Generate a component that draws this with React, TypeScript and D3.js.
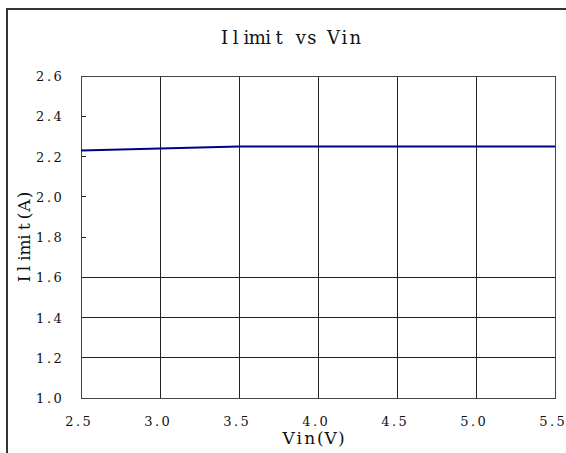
import React from "react";
import * as d3 from "d3";

// Ilimit vs Vin
const vin = [2.5, 3.0, 3.5, 4.0, 4.5, 5.0, 5.5];
const ilimit = [2.23, 2.24, 2.25, 2.25, 2.25, 2.25, 2.25];
const xTicks = [2.5, 3.0, 3.5, 4.0, 4.5, 5.0, 5.5];
const yTicks = [1.0, 1.2, 1.4, 1.6, 1.8, 2.0, 2.2, 2.4, 2.6];
const yGrid = [1.2, 1.4, 1.6];

const W = 566;
const H = 453;
const left = 81, right = 555, top = 76, bottom = 398;
const font = "DejaVu Serif";

// serif glyphs on a fixed cell, the way a half-width CJK font sets latin text
function MonoText(props: {
  text: string;
  cx: number;
  y: number;
  cell: number;
  size: number;
  anchor?: "middle" | "end";
  rotate?: number;
}) {
  const { text, cx, y, cell, size, anchor = "middle", rotate = 0 } = props;
  const n = text.length;
  const x0 = anchor === "middle" ? -(n * cell) / 2 : -n * cell;
  return (
    <g transform={`translate(${cx},${y}) rotate(${rotate})`}>
      {text.split("").map((c, i) => (
        <text
          key={i}
          x={x0 + cell * (i + 0.5)}
          y={0}
          textAnchor="middle"
          style={{ fontFamily: font, fontSize: size }}
          fill="#111"
        >
          {c}
        </text>
      ))}
    </g>
  );
}

const App: React.FC = () => {
  const x = d3.scaleLinear().domain([2.5, 5.5]).range([left, right]);
  const y = d3.scaleLinear().domain([1.0, 2.6]).range([bottom, top]);

  const line = d3
    .line<number>()
    .x((_, i) => x(vin[i]))
    .y((d) => y(d));

  return (
    <svg
      width={W}
      height={H}
      style={{ position: "absolute", left: 0, top: 0, display: "block" }}
    >
      <rect x={0} y={0} width={W} height={H} fill="#fff" />
      {/* outer frame, runs off the right and bottom edges */}
      <rect x={7} y={9} width={W + 20} height={H + 20} fill="none" stroke="#333" strokeWidth={2} />

      <MonoText text="Ilimit vs Vin" cx={290} y={44} cell={10.9} size={18} />

      {/* grid */}
      <g stroke="#222" strokeWidth={1} shapeRendering="crispEdges">
        {xTicks.slice(1, -1).map((t) => (
          <line key={"vx" + t} x1={x(t)} x2={x(t)} y1={top} y2={bottom} />
        ))}
        {yGrid.map((t) => (
          <line key={"hy" + t} x1={left} x2={right} y1={y(t)} y2={y(t)} />
        ))}
        {yTicks.map((t) => (
          <line key={"ty" + t} x1={left} x2={left + 5} y1={y(t)} y2={y(t)} />
        ))}
        <rect x={left} y={top} width={right - left} height={bottom - top} fill="none" stroke="#444" />
      </g>

      <path d={line(ilimit) ?? ""} fill="none" stroke="#000088" strokeWidth={2} />

      {/* tick labels */}
      {yTicks.map((t) => (
        <MonoText key={"ly" + t} text={t.toFixed(1)} cx={62} y={y(t) + 5} cell={8.7} size={13} anchor="end" />
      ))}
      {xTicks.map((t) => (
        <MonoText key={"lx" + t} text={t.toFixed(1)} cx={x(t) - 3} y={426} cell={8.7} size={13} />
      ))}

      <MonoText text="Vin(V)" cx={315} y={444} cell={10.5} size={17} />
      <MonoText text="Ilimit(A)" cx={30} y={(top + bottom) / 2} cell={10.5} size={17} rotate={-90} />
    </svg>
  );
};

export default App;
